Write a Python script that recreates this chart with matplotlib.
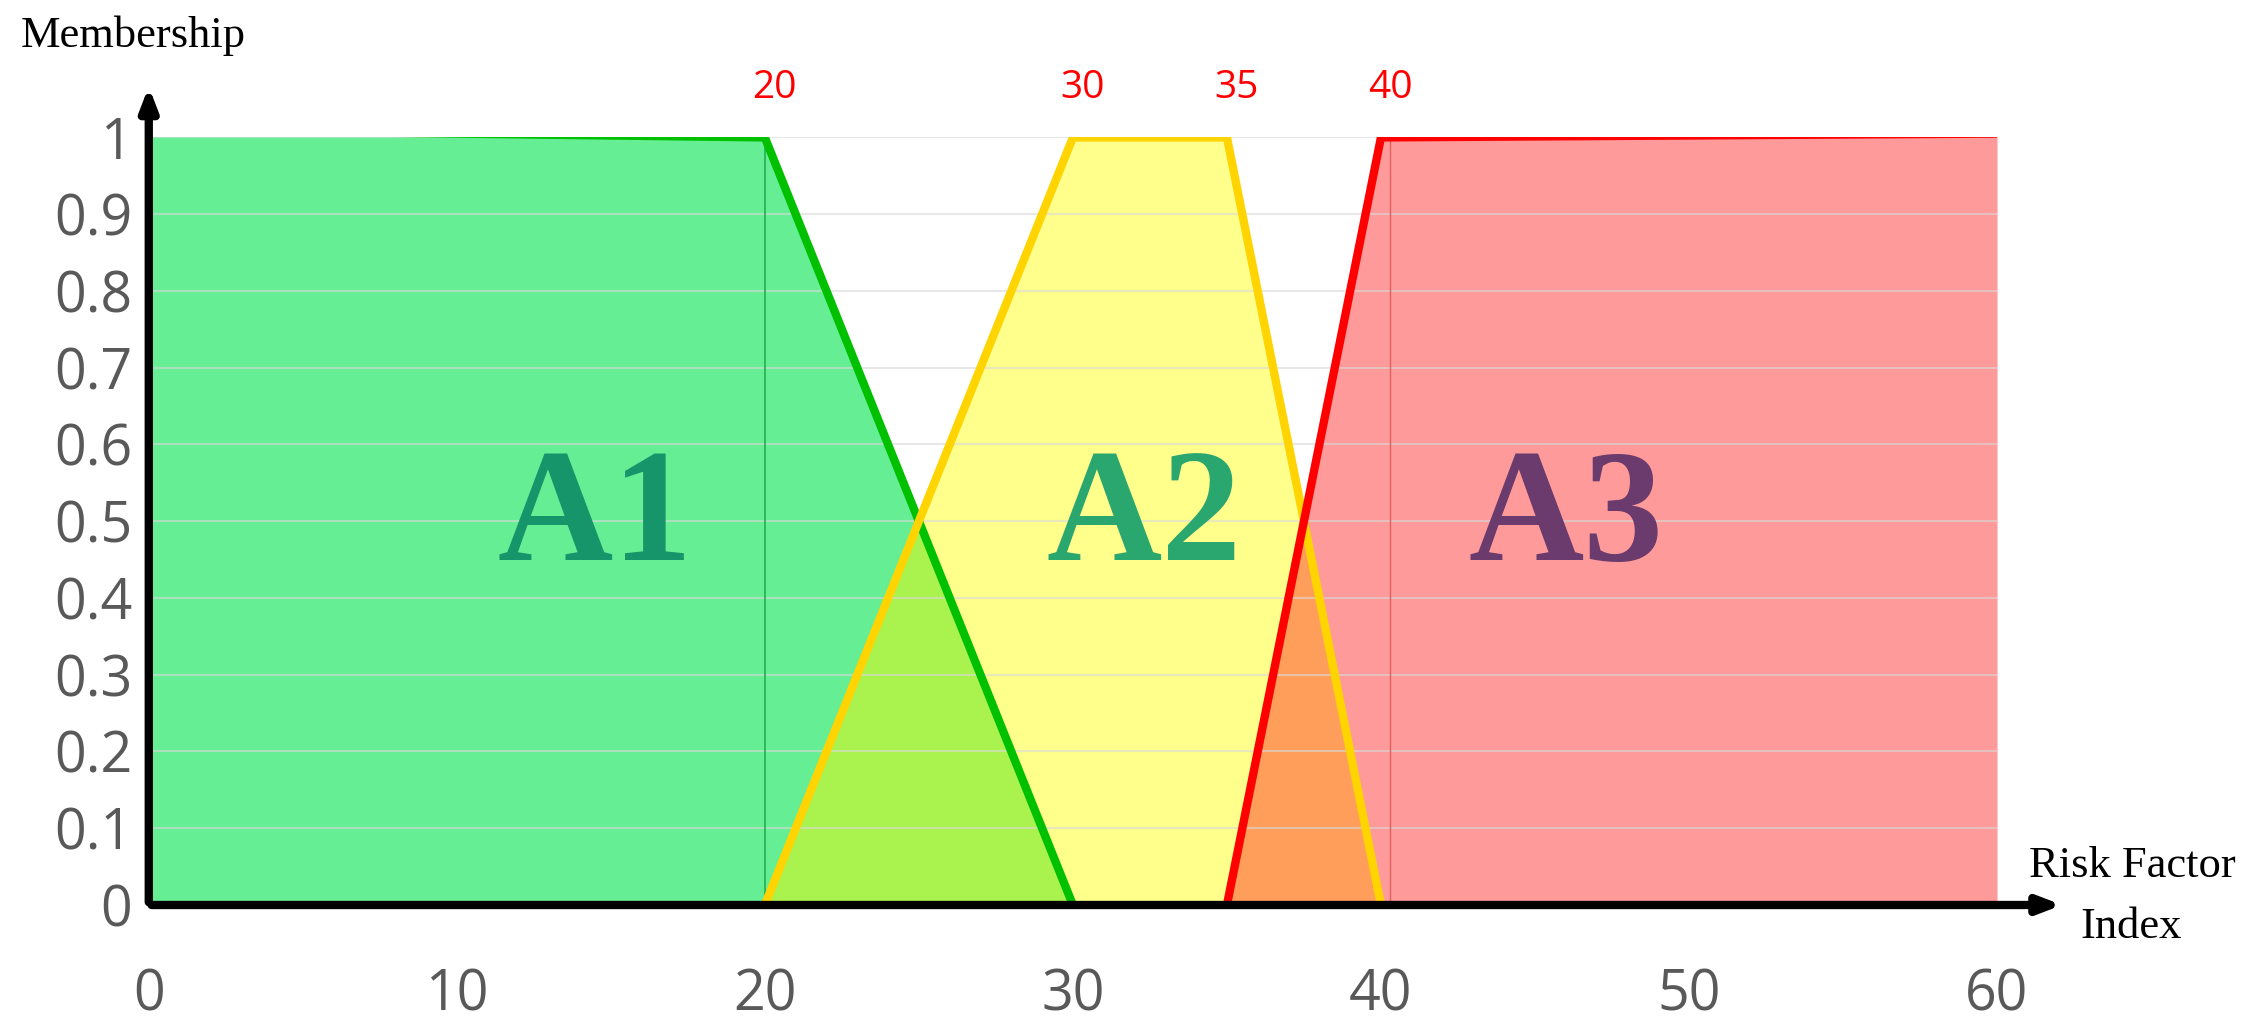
import numpy as np
import matplotlib.pyplot as plt

a1_x = [0, 20, 30]; a1_y = [1.01, 1.0, 0]
a2_x = [20, 30, 35, 40]; a2_y = [0, 1, 1, 0]
a3_x = [35, 40, 60]; a3_y = [0, 1, 1.005]
peaks = [20, 30, 35, 40]
xticks = [0, 10, 20, 30, 40, 50, 60]
yticks = [0, 0.1, 0.2, 0.3, 0.4, 0.5, 0.6, 0.7, 0.8, 0.9, 1]

fig = plt.figure(figsize=(22.54, 10.18), dpi=100)
ax = fig.add_axes([0.066, 0.111, 0.82, 0.754])
ax.set_xlim(0, 60); ax.set_ylim(0, 1)
for s in ax.spines.values(): s.set_visible(False)

for y in yticks[1:]:
    ax.plot([0, 60], [y, y], color='#d9d9d9', lw=1.5, alpha=0.6, zorder=3)

xs = np.linspace(0, 60, 2401)
f1 = np.interp(xs, a1_x, a1_y, left=0, right=0)
f2 = np.interp(xs, a2_x, a2_y, left=0, right=0)
f3 = np.interp(xs, a3_x, a3_y, left=0, right=0)
ax.fill_between(xs, 0, f1, where=f1 > 0, color='#66ee94', lw=0, zorder=1)
ax.fill_between(xs, 0, f2, where=f2 > 0, color='#ffff8c', lw=0, zorder=1)
ax.fill_between(xs, 0, f3, where=f3 > 0, color='#ff9a9a', lw=0, zorder=1)
ax.fill_between(xs, 0, np.minimum(f1, f2), where=np.minimum(f1, f2) > 0, color='#aaf24e', lw=0, zorder=2)
ax.fill_between(xs, 0, np.minimum(f2, f3), where=np.minimum(f2, f3) > 0, color='#ff9e5a', lw=0, zorder=2)

ax.plot([20, 20], [0, 1], color='#22b050', lw=1.2, zorder=4)
ax.plot([40.3, 40.3], [0, 1], color='#e06060', lw=1, zorder=4)
ax.plot(a1_x, a1_y, color='#00c000', lw=6, zorder=5, solid_joinstyle='miter')
ax.plot(a2_x, a2_y, color='#ffd400', lw=6, zorder=5, solid_joinstyle='miter')
ax.plot(a3_x, a3_y, color='#ff0000', lw=6, zorder=5, solid_joinstyle='miter')

ax.annotate('', xy=(0, 1.07), xytext=(0, 0), annotation_clip=False,
            arrowprops=dict(arrowstyle='-|>,head_length=1.3,head_width=0.5', lw=6, color='black'), zorder=6)
ax.annotate('', xy=(62.2, 0), xytext=(0, 0), annotation_clip=False,
            arrowprops=dict(arrowstyle='-|>,head_length=1.3,head_width=0.5', lw=6, color='black'), zorder=6)

ax.set_xticks(xticks); ax.set_yticks(yticks)
ax.set_yticklabels(['0', '0.1', '0.2', '0.3', '0.4', '0.5', '0.6', '0.7', '0.8', '0.9', '1'])
ax.tick_params(length=0, labelsize=40, labelcolor='#595959', pad=12)
ax.tick_params(axis='x', pad=45)
for t in ax.get_xticklabels() + ax.get_yticklabels():
    t.set_family('Open Sans')

for p in peaks:
    ax.text(p + 0.3, 1.04, str(p), color='red', fontsize=28, ha='center', va='bottom', family='Open Sans')

serif = 'Liberation Serif'
ax.text(14.5, 0.5, 'A1', fontsize=115, fontweight='bold', color='#17956a', ha='center', va='center', family=serif)
ax.text(32.3, 0.5, 'A2', fontsize=115, fontweight='bold', color='#2aa66f', ha='center', va='center', family=serif)
ax.text(46.0, 0.5, 'A3', fontsize=115, fontweight='bold', color='#6a3b6c', ha='center', va='center', family=serif)

fig.text(0.009, 0.985, 'Membership', fontsize=32, family=serif, va='top')
fig.text(0.90, 0.13, 'Risk Factor', fontsize=32, family=serif, va='bottom')
fig.text(0.923, 0.07, 'Index', fontsize=32, family=serif, va='bottom')

fig.savefig('out.png', dpi=100)
